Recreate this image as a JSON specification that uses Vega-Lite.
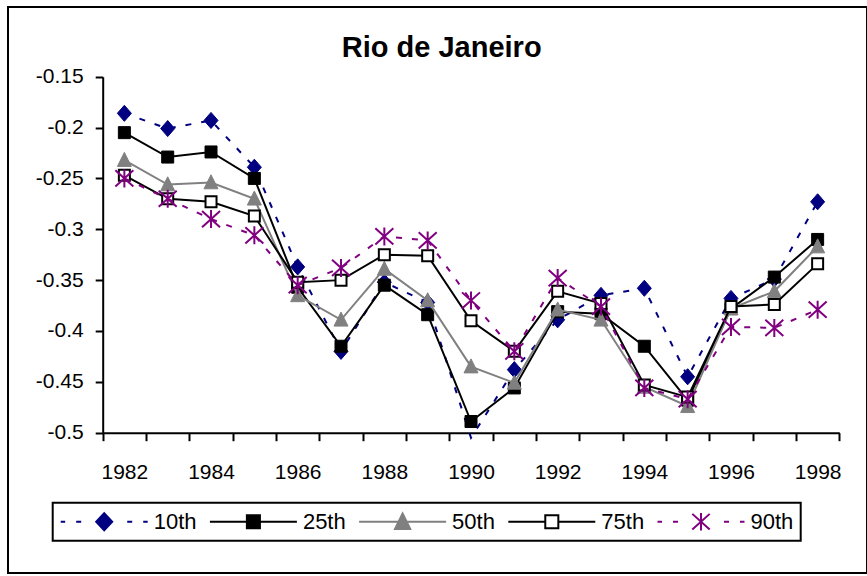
{
  "$schema": "https://vega.github.io/schema/vega-lite/v6.json",
  "autosize": "none",
  "padding": {"left": 8, "top": 7, "right": 0, "bottom": 3},
  "width": 859,
  "height": 566,
  "background": "white",
  "title": {"text": "Rio de Janeiro", "font": "Liberation Sans", "fontSize": 29, "fontWeight": "bold", "color": "black", "anchor": "middle", "frame": "group", "offset": 0, "baseline": "alphabetic", "dy": 79.1, "dx": 4.2},
  "data": {"values": [
    {"year": 1982, "s": "10th", "v": -0.186}, {"year": 1983, "s": "10th", "v": -0.201}, {"year": 1984, "s": "10th", "v": -0.193}, {"year": 1985, "s": "10th", "v": -0.239}, {"year": 1986, "s": "10th", "v": -0.337}, {"year": 1987, "s": "10th", "v": -0.42}, {"year": 1988, "s": "10th", "v": -0.352}, {"year": 1989, "s": "10th", "v": -0.372}, {"year": 1990, "s": "10th", "v": -0.505}, {"year": 1991, "s": "10th", "v": -0.438}, {"year": 1992, "s": "10th", "v": -0.389}, {"year": 1993, "s": "10th", "v": -0.365}, {"year": 1994, "s": "10th", "v": -0.358}, {"year": 1995, "s": "10th", "v": -0.445}, {"year": 1996, "s": "10th", "v": -0.368}, {"year": 1997, "s": "10th", "v": -0.349}, {"year": 1998, "s": "10th", "v": -0.273},
    {"year": 1982, "s": "25th", "v": -0.205}, {"year": 1983, "s": "25th", "v": -0.229}, {"year": 1984, "s": "25th", "v": -0.224}, {"year": 1985, "s": "25th", "v": -0.25}, {"year": 1986, "s": "25th", "v": -0.357}, {"year": 1987, "s": "25th", "v": -0.415}, {"year": 1988, "s": "25th", "v": -0.355}, {"year": 1989, "s": "25th", "v": -0.384}, {"year": 1990, "s": "25th", "v": -0.489}, {"year": 1991, "s": "25th", "v": -0.456}, {"year": 1992, "s": "25th", "v": -0.381}, {"year": 1993, "s": "25th", "v": -0.383}, {"year": 1994, "s": "25th", "v": -0.415}, {"year": 1995, "s": "25th", "v": -0.468}, {"year": 1996, "s": "25th", "v": -0.378}, {"year": 1997, "s": "25th", "v": -0.347}, {"year": 1998, "s": "25th", "v": -0.31},
    {"year": 1982, "s": "50th", "v": -0.232}, {"year": 1983, "s": "50th", "v": -0.256}, {"year": 1984, "s": "50th", "v": -0.254}, {"year": 1985, "s": "50th", "v": -0.27}, {"year": 1986, "s": "50th", "v": -0.365}, {"year": 1987, "s": "50th", "v": -0.389}, {"year": 1988, "s": "50th", "v": -0.339}, {"year": 1989, "s": "50th", "v": -0.37}, {"year": 1990, "s": "50th", "v": -0.435}, {"year": 1991, "s": "50th", "v": -0.451}, {"year": 1992, "s": "50th", "v": -0.379}, {"year": 1993, "s": "50th", "v": -0.389}, {"year": 1994, "s": "50th", "v": -0.455}, {"year": 1995, "s": "50th", "v": -0.474}, {"year": 1996, "s": "50th", "v": -0.378}, {"year": 1997, "s": "50th", "v": -0.361}, {"year": 1998, "s": "50th", "v": -0.317},
    {"year": 1982, "s": "75th", "v": -0.247}, {"year": 1983, "s": "75th", "v": -0.27}, {"year": 1984, "s": "75th", "v": -0.273}, {"year": 1985, "s": "75th", "v": -0.287}, {"year": 1986, "s": "75th", "v": -0.352}, {"year": 1987, "s": "75th", "v": -0.35}, {"year": 1988, "s": "75th", "v": -0.325}, {"year": 1989, "s": "75th", "v": -0.326}, {"year": 1990, "s": "75th", "v": -0.39}, {"year": 1991, "s": "75th", "v": -0.42}, {"year": 1992, "s": "75th", "v": -0.361}, {"year": 1993, "s": "75th", "v": -0.373}, {"year": 1994, "s": "75th", "v": -0.453}, {"year": 1995, "s": "75th", "v": -0.465}, {"year": 1996, "s": "75th", "v": -0.376}, {"year": 1997, "s": "75th", "v": -0.374}, {"year": 1998, "s": "75th", "v": -0.334},
    {"year": 1982, "s": "90th", "v": -0.25}, {"year": 1983, "s": "90th", "v": -0.27}, {"year": 1984, "s": "90th", "v": -0.29}, {"year": 1985, "s": "90th", "v": -0.306}, {"year": 1986, "s": "90th", "v": -0.355}, {"year": 1987, "s": "90th", "v": -0.338}, {"year": 1988, "s": "90th", "v": -0.307}, {"year": 1989, "s": "90th", "v": -0.311}, {"year": 1990, "s": "90th", "v": -0.37}, {"year": 1991, "s": "90th", "v": -0.42}, {"year": 1992, "s": "90th", "v": -0.348}, {"year": 1993, "s": "90th", "v": -0.376}, {"year": 1994, "s": "90th", "v": -0.456}, {"year": 1995, "s": "90th", "v": -0.467}, {"year": 1996, "s": "90th", "v": -0.396}, {"year": 1997, "s": "90th", "v": -0.397}, {"year": 1998, "s": "90th", "v": -0.379}
  ]},
  "encoding": {
    "x": {"field": "year", "type": "ordinal", "bandPosition": 0.5,
      "scale": {"type": "band", "range": [94.7, 831.3], "paddingInner": 0, "paddingOuter": 0},
      "axis": {"title": null, "orient": "bottom", "offset": -140.3, "tickBand": "extent", "labelAngle": 0, "labelOverlap": false, "labelExpr": "datum.value % 2 === 0 ? datum.label : ''", "tickSize": 8, "labelPadding": 20.7}},
    "y": {"field": "v", "type": "quantitative",
      "scale": {"domain": [-0.5, -0.15], "range": [425.7, 69.7], "zero": false, "nice": false},
      "axis": {"title": null, "orient": "left", "offset": -94.7, "values": [-0.5, -0.45, -0.4, -0.35, -0.3, -0.25, -0.2, -0.15], "labelExpr": "toString(datum.value)", "tickSize": 7.5, "labelPadding": 12}}
  },
  "layer": [
    {"transform": [{"filter": "datum.s === '10th'"}], "mark": {"type": "line", "color": "#000080", "strokeWidth": 2, "strokeDash": [6, 10]}},
    {"transform": [{"filter": "datum.s === '10th' && datum.v >= -0.5"}],
     "mark": {"type": "point", "shape": "M0,-1.15L1,0L0,1.15L-1,0Z", "filled": true, "fill": "#000080", "stroke": "#000080", "opacity": 1, "size": 196, "strokeWidth": 1}},
    {"transform": [{"filter": "datum.s === '25th'"}], "mark": {"type": "line", "color": "#000000", "strokeWidth": 2}},
    {"transform": [{"filter": "datum.s === '25th'"}],
     "mark": {"type": "point", "shape": "square", "filled": true, "fill": "#000000", "stroke": "#000000", "opacity": 1, "size": 144, "strokeWidth": 1}},
    {"transform": [{"filter": "datum.s === '50th'"}], "mark": {"type": "line", "color": "#808080", "strokeWidth": 2}},
    {"transform": [{"filter": "datum.s === '50th'"}],
     "mark": {"type": "point", "shape": "M0,-1.1L1,0.9L-1,0.9Z", "filled": true, "fill": "#808080", "stroke": "#808080", "opacity": 1, "size": 196, "strokeWidth": 1}},
    {"transform": [{"filter": "datum.s === '75th'"}], "mark": {"type": "line", "color": "#000000", "strokeWidth": 2}},
    {"transform": [{"filter": "datum.s === '75th'"}],
     "mark": {"type": "point", "shape": "square", "filled": true, "fill": "#ffffff", "stroke": "#000000", "opacity": 1, "size": 121, "strokeWidth": 2}},
    {"transform": [{"filter": "datum.s === '90th'"}], "mark": {"type": "line", "color": "#800080", "strokeWidth": 2, "strokeDash": [6, 10]}},
    {"transform": [{"filter": "datum.s === '90th'"}],
     "mark": {"type": "point", "shape": "M0,-1L0,1M-1,-0.9L1,0.9M-1,0.9L1,-0.9", "filled": false, "fill": "transparent", "stroke": "#800080", "opacity": 1, "size": 324, "strokeWidth": 2}},
    {"transform": [{"filter": "false"}],
     "mark": {"type": "point", "filled": true, "opacity": 1, "strokeWidth": 2},
     "encoding": {
       "shape": {"field": "s", "type": "nominal", "scale": {"domain": ["10th", "25th", "50th", "75th", "90th"], "range": [
         "M-1,0L-0.897,0M-0.644,0L-0.529,0M0.529,0L0.644,0M0.897,0L1,0M0,-0.195L0.184,0L0,0.195L-0.184,0Z",
         "M-1,0L1,0M-0.15,-0.15L0.15,-0.15L0.15,0.15L-0.15,0.15Z",
         "M-1,0L1,0M0,-0.19L0.175,0.165L-0.175,0.165Z",
         "M-1,0L-0.15,0M0.15,0L1,0M-0.15,-0.15L0.15,-0.15L0.15,0.15L-0.15,0.15Z",
         "M-1,0L-0.897,0M-0.644,0L-0.529,0M0.529,0L0.644,0M0.897,0L1,0M0,-0.2L0,0.2M-0.2,-0.18L0.2,0.18M-0.2,0.18L0.2,-0.18"]},
         "legend": {"title": null, "orient": "none", "legendX": 44.7, "legendY": 495.7, "direction": "horizontal"}},
       "fill": {"field": "s", "type": "nominal", "scale": {"domain": ["10th", "25th", "50th", "75th", "90th"], "range": ["#000080", "#000000", "#808080", "#ffffff", "transparent"]}, "legend": {"title": null, "orient": "none", "legendX": 44.7, "legendY": 495.7, "direction": "horizontal"}},
       "stroke": {"field": "s", "type": "nominal", "scale": {"domain": ["10th", "25th", "50th", "75th", "90th"], "range": ["#000080", "#000000", "#808080", "#000000", "#800080"]}, "legend": {"title": null, "orient": "none", "legendX": 44.7, "legendY": 495.7, "direction": "horizontal"}}
     }}
  ],
  "config": {
    "font": "Liberation Sans",
    "view": {"stroke": "black", "strokeWidth": 2, "fill": "white"},
    "axis": {"domainColor": "black", "domainWidth": 2, "tickColor": "black", "tickWidth": 2, "labelColor": "black", "labelFont": "Liberation Sans", "labelFontSize": 21, "grid": false},
    "legend": {"strokeColor": "black", "strokeWidth": 2, "padding": 7, "columnPadding": 12.2, "labelOffset": 5, "symbolOffset": 0, "clipHeight": 24, "rowPadding": 0, "labelFont": "Liberation Sans", "labelFontSize": 22, "labelColor": "black", "labelLimit": 0, "symbolSize": 7569, "symbolStrokeWidth": 2, "symbolOpacity": 1}
  }
}
